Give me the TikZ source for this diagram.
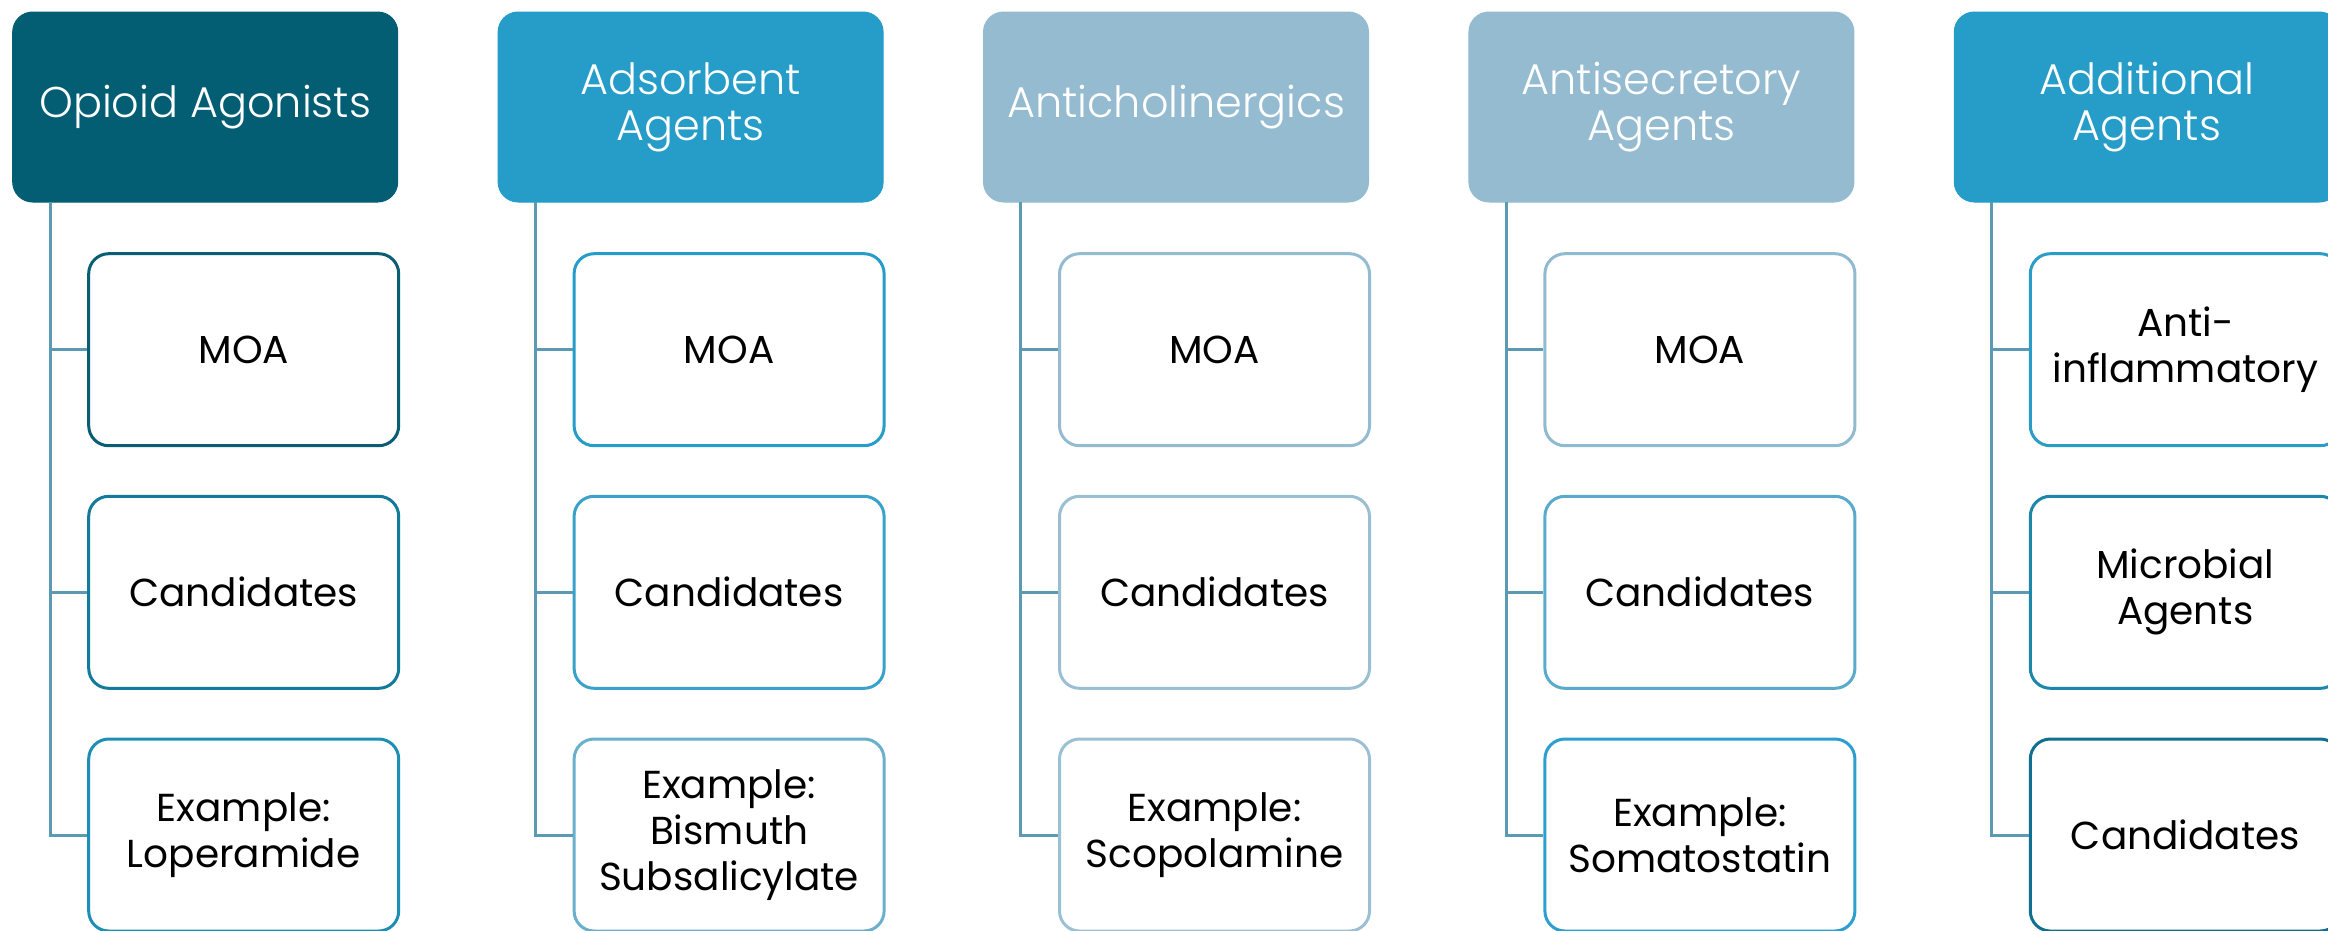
\documentclass[tikz,border=0pt]{standalone}
\usepackage{fontspec}
\setmainfont{Poppins}
\newfontfamily\hfont{Poppins Light}
\definecolor{hdark}{HTML}{035E73}
\definecolor{hmid}{HTML}{259DC8}
\definecolor{hlight}{HTML}{94BBD0}
\definecolor{lineblue}{HTML}{5C9AB4}
\definecolor{ba1}{HTML}{0A5E74}\definecolor{ba2}{HTML}{137A9B}\definecolor{ba3}{HTML}{1E8FB4}
\definecolor{bb1}{HTML}{259DC8}\definecolor{bb2}{HTML}{3AA2CA}\definecolor{bb3}{HTML}{6AB0CC}
\definecolor{bc1}{HTML}{94BBD0}\definecolor{bc2}{HTML}{9ABFD2}\definecolor{bc3}{HTML}{9CC0D3}
\definecolor{bd1}{HTML}{90BAD0}\definecolor{bd2}{HTML}{5AAACC}\definecolor{bd3}{HTML}{2C9ECF}
\definecolor{be1}{HTML}{2A9CC6}\definecolor{be2}{HTML}{1C87AB}\definecolor{be3}{HTML}{117090}
\tikzset{
  headbox/.style={rectangle, rounded corners=20pt, minimum width=385pt, minimum height=190pt,
    inner sep=0pt, text=white, align=center, font=\hfont\fontsize{43}{46}\selectfont, line width=1pt},
  childbox/.style={rectangle, rounded corners=20pt, minimum width=310pt, minimum height=192pt,
    inner sep=0pt, fill=white, align=center, font=\fontsize{39}{46}\selectfont, line width=3pt},
  conn/.style={draw=lineblue, line width=3pt},
}
\begin{document}
\begin{tikzpicture}[x=1pt,y=-1pt]
\useasboundingbox (0,0) rectangle (2328,930);
\clip (0,0) rectangle (2328,930);
\foreach \Ci/\HCol/\HTxt/\CA/\TA/\CB/\TB/\CC/\TC in {
  0/hdark/{Opioid Agonists}/ba1/MOA/ba2/Candidates/ba3/{Example:\\Loperamide},
  1/hmid/{Adsorbent\\Agents}/bb1/MOA/bb2/Candidates/bb3/{Example:\\Bismuth\\Subsalicylate},
  2/hlight/{Anticholinergics}/bc1/MOA/bc2/Candidates/bc3/{Example:\\Scopolamine},
  3/hlight/{Antisecretory\\Agents}/bd1/MOA/bd2/Candidates/bd3/{Example:\\Somatostatin},
  4/hmid/{Additional\\Agents}/be1/{Anti-\\inflammatory}/be2/{Microbial\\Agents}/be3/Candidates}{
  \pgfmathsetmacro{\HX}{12.7+485.4*\Ci}
  \node[headbox, fill=\HCol, draw=\HCol] (h\Ci) at (\HX+192.5,107) {\HTxt};
  \node[childbox, draw=\CA] (c\Ci a) at (\HX+231,349.7) {\TA};
  \node[childbox, draw=\CB] (c\Ci b) at (\HX+231,592.3) {\TB};
  \node[childbox, draw=\CC] (c\Ci c) at (\HX+231,835) {\TC};
  \coordinate (t\Ci) at (\HX+37.3,202);
  \draw[conn] (t\Ci) |- (c\Ci a.west);
  \draw[conn] (t\Ci) |- (c\Ci b.west);
  \draw[conn] (t\Ci) |- (c\Ci c.west);
}
\end{tikzpicture}
\end{document}
